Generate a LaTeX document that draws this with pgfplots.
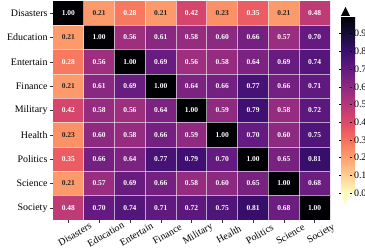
\documentclass[border=0pt]{standalone}
\usepackage{pgfplots}
\usepackage{pgfplotstable}
\pgfplotsset{compat=1.18}
\usepackage{fontspec}
\setmainfont{Liberation Serif}
\definecolor{magtop}{RGB}{0,0,4}
\definecolor{magbot}{RGB}{252,253,191}

\pgfplotstableread{
x y v
0 0 1.00
1 0 0.21
2 0 0.28
3 0 0.21
4 0 0.42
5 0 0.23
6 0 0.35
7 0 0.21
8 0 0.48
0 1 0.21
1 1 1.00
2 1 0.56
3 1 0.61
4 1 0.58
5 1 0.60
6 1 0.66
7 1 0.57
8 1 0.70
0 2 0.28
1 2 0.56
2 2 1.00
3 2 0.69
4 2 0.56
5 2 0.58
6 2 0.64
7 2 0.69
8 2 0.74
0 3 0.21
1 3 0.61
2 3 0.69
3 3 1.00
4 3 0.64
5 3 0.66
6 3 0.77
7 3 0.66
8 3 0.71
0 4 0.42
1 4 0.58
2 4 0.56
3 4 0.64
4 4 1.00
5 4 0.59
6 4 0.79
7 4 0.58
8 4 0.72
0 5 0.23
1 5 0.60
2 5 0.58
3 5 0.66
4 5 0.59
5 5 1.00
6 5 0.70
7 5 0.60
8 5 0.75
0 6 0.35
1 6 0.66
2 6 0.64
3 6 0.77
4 6 0.79
5 6 0.70
6 6 1.00
7 6 0.65
8 6 0.81
0 7 0.21
1 7 0.57
2 7 0.69
3 7 0.66
4 7 0.58
5 7 0.60
6 7 0.65
7 7 1.00
8 7 0.68
0 8 0.48
1 8 0.70
2 8 0.74
3 8 0.71
4 8 0.72
5 8 0.75
6 8 0.81
7 8 0.68
8 8 1.00
}\corr

\begin{document}
\begin{tikzpicture}
\begin{axis}[
  name=main,
  scale only axis,
  width=277bp, height=219bp,
  xmin=-0.5, xmax=8.5, ymin=-0.5, ymax=8.5,
  y dir=reverse,
  axis line style={draw=none},
  axis on top,
  colormap={magmar}{rgb255=(252,253,191) rgb255=(254,207,146) rgb255=(254,159,109) rgb255=(247,112,92) rgb255=(222,73,104) rgb255=(183,55,121) rgb255=(140,41,129) rgb255=(100,26,128) rgb255=(59,15,112) rgb255=(20,14,54) rgb255=(0,0,4)},
  point meta min=0, point meta max=1,
  xtick={0,...,8}, ytick={0,...,8},
  xticklabels={Disasters,Education,Entertain,Finance,Military,Health,Politics,Science,Society},
  yticklabels={Disasters,Education,Entertain,Finance,Military,Health,Politics,Science,Society},
  xtick pos=lower, ytick pos=left,
  tick align=outside,
  major tick length=3bp,
  minor tick length=0pt,
  tick style={black!80, line width=0.4bp},
  minor xtick={0.5,1.5,2.5,3.5,4.5,5.5,6.5,7.5},
  minor ytick={0.5,1.5,2.5,3.5,4.5,5.5,6.5,7.5},
  grid=minor,
  minor grid style={white, line width=0.8bp, opacity=0.6},
  ticklabel style={font=\fontsize{10}{12}\selectfont},
  xticklabel style={rotate=30, anchor=center, yshift=-13bp},
  yticklabel style={xshift=1bp},
  colorbar,
  colorbar shift/.style={xshift=11bp, yshift=-15bp},
  colorbar style={
    width=9bp, height=177bp,
    at={(parent axis.north east)}, anchor=north west,
    ytick={0,0.1,0.2,0.3,0.4,0.5,0.6,0.7,0.8,0.9},
    yticklabel style={font=\fontsize{10}{12}\selectfont,
      /pgf/number format/fixed, /pgf/number format/fixed zerofill,
      /pgf/number format/precision=1, /pgf/number format/assume math mode=true,
      xshift=-1.5bp},
    tick align=outside, major tick length=2bp,
    tick style={black, line width=0.4bp},
    axis line style={draw=none},
    clip=false,
    after end axis/.code={
      \fill[magtop] (rel axis cs:0,1) -- (rel axis cs:1,1) -- ++(-4.5bp,9bp) -- cycle;
      \fill[magbot] (rel axis cs:0,0) -- (rel axis cs:1,0) -- ++(-4.5bp,-12bp) -- cycle;
    },
  },
]
\addplot[matrix plot*, mesh/cols=9, point meta=explicit] table[x=x, y=y, meta=v] {\corr};
\addplot[only marks, mark=none, point meta=explicit,
  x filter/.expression={\thisrow{v}<0.25 ? nan : x},
  nodes near coords={\pgfmathprintnumber[fixed,fixed zerofill,precision=2,assume math mode=true]{\pgfplotspointmeta}},
  nodes near coords align=center,
  nodes near coords style={text=white, font=\fontsize{7.5}{9}\selectfont\bfseries, anchor=center}]
  table[x=x, y=y, meta=v] {\corr};
\addplot[only marks, mark=none, point meta=explicit,
  x filter/.expression={\thisrow{v}<0.25 ? x : nan},
  nodes near coords={\pgfmathprintnumber[fixed,fixed zerofill,precision=2,assume math mode=true]{\pgfplotspointmeta}},
  nodes near coords align=center,
  nodes near coords style={text=black!85, font=\fontsize{7.5}{9}\selectfont\bfseries, anchor=center}]
  table[x=x, y=y, meta=v] {\corr};
\end{axis}
\pgfresetboundingbox
\path (main.north west) ++(-53bp,1bp) rectangle ++(365bp,-252bp);
\end{tikzpicture}
\end{document}
